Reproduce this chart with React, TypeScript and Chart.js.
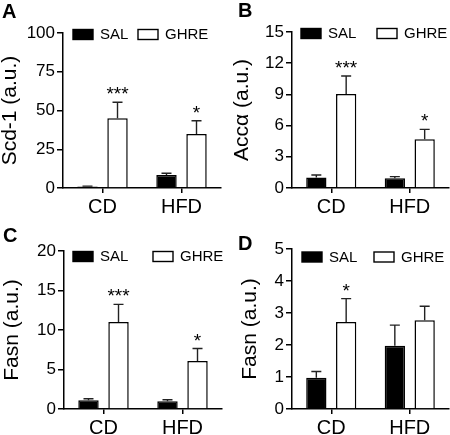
import React, { useEffect, useRef } from "react";
import { Chart, registerables } from "chart.js";

Chart.register(...registerables);

const FONT = '"Liberation Sans", Arial, Helvetica, sans-serif';

// ---- data ----
const categories = ["CD", "HFD"];
const seriesNames = ["SAL", "GHRE"];

const scdSAL = [1.0, 8.4];
const scdSALErr = [0.2, 1.1];
const scdGHRE = [45.0, 34.8];
const scdGHREErr = [10.3, 8.6];
const scdStars = ["***", "*"];

const accSAL = [1.0, 0.93];
const accSALErr = [0.25, 0.16];
const accGHRE = [9.04, 4.68];
const accGHREErr = [1.73, 0.96];
const accStars = ["***", "*"];

const fasnCSAL = [1.1, 0.97];
const fasnCSALErr = [0.2, 0.21];
const fasnCGHRE = [11.0, 6.08];
const fasnCGHREErr = [2.25, 1.57];
const fasnCStars = ["***", "*"];

const fasnDSAL = [0.98, 1.98];
const fasnDSALErr = [0.19, 0.64];
const fasnDGHRE = [2.72, 2.77];
const fasnDGHREErr = [0.73, 0.44];
const fasnDStars = ["*", ""];

type PanelCfg = {
  letter: string;
  yTitle: string;
  yMax: number;
  yStep: number;
  sal: number[];
  salErr: number[];
  ghre: number[];
  ghreErr: number[];
  stars: string[];
  left: number;
  top: number;
  width: number;
  height: number;
  yWidth: number;
  padTop: number;
  padRight: number;
  xHeight: number;
  titlePad: number;
  legendX: number[];
  legendDy: number;
  letterX: number;
  letterY: number;
};

const panels: PanelCfg[] = [
  {
    letter: "A", yTitle: "Scd-1 (a.u.)", yMax: 100, yStep: 25,
    sal: scdSAL, salErr: scdSALErr, ghre: scdGHRE, ghreErr: scdGHREErr, stars: scdStars,
    left: 0, top: 0, width: 225, height: 217,
    yWidth: 63, padTop: 33, padRight: 4, xHeight: 29, titlePad: 0,
    legendX: [10, 75], legendDy: 1.5, letterX: 2, letterY: 18,
  },
  {
    letter: "B", yTitle: "Accα (a.u.)", yMax: 15, yStep: 3,
    sal: accSAL, salErr: accSALErr, ghre: accGHRE, ghreErr: accGHREErr, stars: accStars,
    left: 225, top: 0, width: 225, height: 217,
    yWidth: 67, padTop: 32, padRight: 1, xHeight: 29, titlePad: 7,
    legendX: [9, 85], legendDy: 1.5, letterX: 13, letterY: 17,
  },
  {
    letter: "C", yTitle: "Fasn (a.u.)", yMax: 20, yStep: 5,
    sal: fasnCSAL, salErr: fasnCSALErr, ghre: fasnCGHRE, ghreErr: fasnCGHREErr, stars: fasnCStars,
    left: 0, top: 217, width: 225, height: 218,
    yWidth: 64, padTop: 34, padRight: 3, xHeight: 26, titlePad: 1.5,
    legendX: [9, 89], legendDy: 5.5, letterX: 3, letterY: 25,
  },
  {
    letter: "D", yTitle: "Fasn (a.u.)", yMax: 5, yStep: 1,
    sal: fasnDSAL, salErr: fasnDSALErr, ghre: fasnDGHRE, ghreErr: fasnDGHREErr, stars: fasnDStars,
    left: 225, top: 217, width: 225, height: 218,
    yWidth: 67, padTop: 32, padRight: 1, xHeight: 26, titlePad: 14.5,
    legendX: [10, 82], legendDy: 8, letterX: 13, letterY: 33,
  },
];

const decorPlugin = {
  id: "decor",
  afterDatasetsDraw(chart: any) {
    const ctx = chart.ctx;
    const ya = chart.scales.y;
    chart.data.datasets.forEach((ds: any, di: number) => {
      const meta = chart.getDatasetMeta(di);
      meta.data.forEach((bar: any, i: number) => {
        const v = ds.data[i];
        const e = ds.errors ? ds.errors[i] : 0;
        const yTop = ya.getPixelForValue(v + e);
        const x = bar.x;
        const y0 = bar.y;
        ctx.save();
        ctx.strokeStyle = "#222";
        ctx.lineWidth = 1.4;
        ctx.beginPath();
        ctx.moveTo(x, y0);
        ctx.lineTo(x, yTop);
        ctx.moveTo(x - 5, yTop);
        ctx.lineTo(x + 5, yTop);
        ctx.stroke();
        if (ds.stars && ds.stars[i]) {
          ctx.fillStyle = "#000";
          ctx.font = `19px ${FONT}`;
          ctx.textAlign = "center";
          ctx.textBaseline = "alphabetic";
          ctx.fillText(ds.stars[i], x, yTop - 2);
        }
        ctx.restore();
      });
    });
  },
  afterDraw(chart: any, _args: any, opts: any) {
    const ctx = chart.ctx;
    const area = chart.chartArea;
    ctx.save();
    const cy = area.top + opts.legendDy;
    chart.data.datasets.forEach((ds: any, di: number) => {
      const bx = area.left + opts.legendX[di];
      ctx.fillStyle = ds.backgroundColor;
      ctx.fillRect(bx, cy - 5, 20, 10);
      ctx.strokeStyle = "#000";
      ctx.lineWidth = 1.4;
      ctx.strokeRect(bx, cy - 5, 20, 10);
      ctx.fillStyle = "#000";
      ctx.font = `15px ${FONT}`;
      ctx.textAlign = "left";
      ctx.textBaseline = "middle";
      ctx.fillText(ds.label, bx + 27, cy + 0.5);
    });
    ctx.font = `bold 20px ${FONT}`;
    ctx.textAlign = "left";
    ctx.textBaseline = "alphabetic";
    ctx.fillStyle = "#000";
    ctx.fillText(opts.letter, opts.letterX, opts.letterY);
    ctx.restore();
  },
};

function Panel({ cfg }: { cfg: PanelCfg }) {
  const ref = useRef<HTMLCanvasElement | null>(null);
  useEffect(() => {
    if (!ref.current) return;
    const chart = new Chart(ref.current, {
      type: "bar",
      data: {
        labels: categories,
        datasets: [
          {
            label: seriesNames[0],
            data: cfg.sal,
            errors: cfg.salErr,
            stars: [],
            backgroundColor: "#000000",
            borderColor: "#000000",
            borderWidth: 1.5,
            categoryPercentage: 0.76,
            barPercentage: 0.68,
          } as any,
          {
            label: seriesNames[1],
            data: cfg.ghre,
            errors: cfg.ghreErr,
            stars: cfg.stars,
            backgroundColor: "#ffffff",
            borderColor: "#000000",
            borderWidth: 1.5,
            categoryPercentage: 0.76,
            barPercentage: 0.68,
          } as any,
        ],
      },
      options: {
        responsive: false,
        maintainAspectRatio: false,
        animation: false,
        devicePixelRatio: 1,
        layout: {
          padding: { top: cfg.padTop, right: cfg.padRight, bottom: 0, left: 0 },
        },
        plugins: {
          legend: { display: false },
          tooltip: { enabled: false },
          decor: {
            legendX: cfg.legendX,
            legendDy: cfg.legendDy,
            letter: cfg.letter,
            letterX: cfg.letterX,
            letterY: cfg.letterY,
          },
        } as any,
        scales: {
          x: {
            type: "category",
            offset: true,
            grid: {
              offset: false,
              drawOnChartArea: false,
              drawTicks: true,
              tickLength: 5,
              color: "#000",
              lineWidth: 1.5,
            },
            border: { display: true, color: "#000", width: 1.5 },
            ticks: { color: "#000", font: { family: FONT, size: 20 }, padding: 2 },
            afterFit: (s: any) => {
              s.height = cfg.xHeight;
            },
          },
          y: {
            min: 0,
            max: cfg.yMax,
            grid: {
              drawOnChartArea: false,
              drawTicks: true,
              tickLength: 6,
              color: "#000",
              lineWidth: 1.5,
            },
            border: { display: true, color: "#000", width: 1.5 },
            ticks: {
              stepSize: cfg.yStep,
              color: "#000",
              font: { family: FONT, size: 17 },
              padding: 2,
            },
            title: {
              display: true,
              text: cfg.yTitle,
              color: "#000",
              font: { family: FONT, size: 21, lineHeight: 1 },
              padding: { top: cfg.titlePad, bottom: 0 },
            },
            afterFit: (s: any) => {
              s.width = cfg.yWidth;
            },
          },
        },
      } as any,
      plugins: [decorPlugin],
    });
    return () => chart.destroy();
  }, [cfg]);
  return (
    <canvas
      ref={ref}
      width={cfg.width}
      height={cfg.height}
      style={{
        position: "absolute",
        left: cfg.left,
        top: cfg.top,
        width: cfg.width,
        height: cfg.height,
        display: "block",
      }}
    />
  );
}

export default function App() {
  return (
    <div
      style={{
        position: "absolute",
        left: 0,
        top: 0,
        width: 450,
        height: 435,
        background: "#ffffff",
        overflow: "hidden",
      }}
    >
      {panels.map((p) => (
        <Panel key={p.letter} cfg={p} />
      ))}
    </div>
  );
}
